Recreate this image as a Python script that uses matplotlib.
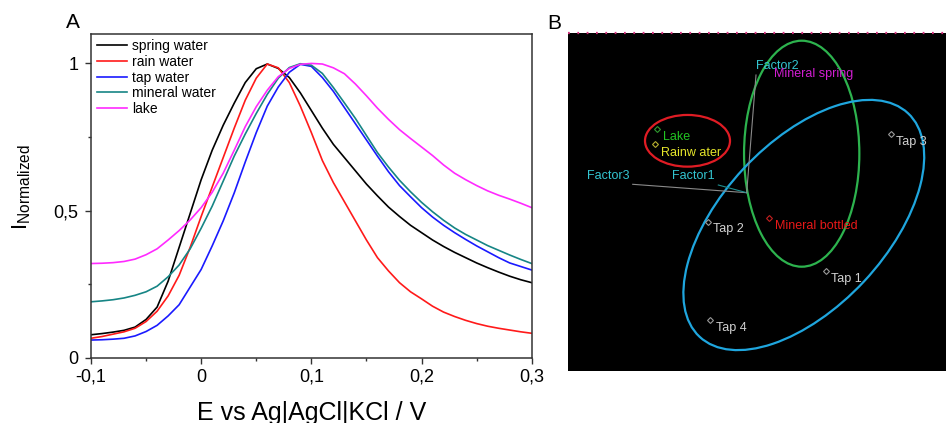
import matplotlib
matplotlib.use('Agg')
import matplotlib.pyplot as plt
from matplotlib.patches import Ellipse
from matplotlib.ticker import MultipleLocator, FuncFormatter

plt.rcParams['font.family'] = ['Liberation Sans', 'DejaVu Sans']

# --- Panel A: normalized voltammograms ---
E = [-0.10, -0.09, -0.08, -0.07, -0.06, -0.05, -0.04, -0.03, -0.02, -0.01,
     0.00, 0.01, 0.02, 0.03, 0.04, 0.05, 0.06, 0.07, 0.08, 0.09,
     0.10, 0.11, 0.12, 0.13, 0.14, 0.15, 0.16, 0.17, 0.18, 0.19,
     0.20, 0.21, 0.22, 0.23, 0.24, 0.25, 0.26, 0.27, 0.28, 0.29, 0.30]

spring = [0.078, 0.082, 0.087, 0.093, 0.104, 0.130, 0.172, 0.260, 0.375, 0.490,
          0.605, 0.705, 0.790, 0.865, 0.935, 0.982, 0.998, 0.983, 0.952, 0.900,
          0.840, 0.780, 0.725, 0.680, 0.635, 0.590, 0.550, 0.512, 0.480, 0.450,
          0.425, 0.400, 0.378, 0.358, 0.340, 0.322, 0.306, 0.291, 0.277, 0.265, 0.255]
rain = [0.066, 0.072, 0.080, 0.088, 0.100, 0.123, 0.158, 0.210, 0.280, 0.375,
        0.480, 0.580, 0.680, 0.780, 0.875, 0.950, 0.998, 0.985, 0.935, 0.855,
        0.765, 0.670, 0.595, 0.530, 0.465, 0.400, 0.340, 0.295, 0.255, 0.224,
        0.200, 0.175, 0.155, 0.140, 0.127, 0.116, 0.107, 0.100, 0.094, 0.088, 0.083]
tap = [0.060, 0.061, 0.063, 0.066, 0.074, 0.089, 0.110, 0.142, 0.180, 0.240,
       0.300, 0.380, 0.465, 0.560, 0.665, 0.765, 0.855, 0.920, 0.970, 0.997,
       0.990, 0.952, 0.905, 0.850, 0.795, 0.740, 0.685, 0.632, 0.585, 0.547,
       0.510, 0.478, 0.450, 0.425, 0.402, 0.380, 0.360, 0.340, 0.322, 0.310, 0.298]
mineral = [0.190, 0.193, 0.197, 0.203, 0.212, 0.224, 0.243, 0.275, 0.315, 0.370,
           0.440, 0.515, 0.600, 0.685, 0.760, 0.830, 0.895, 0.950, 0.986, 0.999,
           0.994, 0.966, 0.918, 0.866, 0.813, 0.755, 0.697, 0.648, 0.603, 0.564,
           0.528, 0.496, 0.467, 0.441, 0.419, 0.400, 0.381, 0.365, 0.349, 0.334, 0.320]
lake = [0.320, 0.321, 0.323, 0.327, 0.335, 0.350, 0.370, 0.400, 0.432, 0.468,
        0.510, 0.562, 0.627, 0.705, 0.785, 0.853, 0.909, 0.955, 0.983, 0.997,
        1.000, 0.998, 0.985, 0.965, 0.930, 0.890, 0.848, 0.810, 0.775, 0.745,
        0.716, 0.687, 0.655, 0.627, 0.605, 0.585, 0.567, 0.552, 0.539, 0.525, 0.510]

series_names = ["spring water", "rain water", "tap water", "mineral water", "lake"]
series_vals = [spring, rain, tap, mineral, lake]
series_colors = ["#000000", "#ff1a1a", "#1a1aff", "#168585", "#ff2aff"]

# --- Panel B: PCA-like map (box pixel units) ---
pt_names = ["Lake", "Rainw ater", "Tap 3", "Tap 2", "Mineral bottled", "Tap 1", "Tap 4"]
pt_x = [89.0, 87.6, 323.3, 140.6, 201.0, 258.0, 142.3]
pt_y = [241.4, 226.7, 236.4, 149.0, 152.4, 99.7, 50.7]
pt_mcolors = ["#2f9a2f", "#b8b030", "#9a9a9a", "#9a9a9a", "#c42020", "#9a9a9a", "#9a9a9a"]
pt_tcolors = ["#22c322", "#e6e62a", "#d2d2d2", "#d2d2d2", "#e81818", "#d2d2d2", "#d2d2d2"]

ell_cx = [119.8, 234.0, 236.1]
ell_cy = [229.9, 217.0, 145.7]
ell_w = [85.0, 115.3, 305.6]
ell_h = [51.7, 226.0, 165.0]
ell_ang = [0, 0, 47]
ell_colors = ["#e01c24", "#2db34e", "#1fa6de"]

origin = (179.0, 178.0)
factor_names = ["Factor3", "Factor1", "Factor2"]
factor_end_x = [65.0, 150.6, 188.3]
factor_end_y = [186.4, 185.7, 295.7]
factor_label_x = [19.0, 104.0, 188.0]
factor_label_y = [194.9, 194.9, 305.0]
factor_line_colors = ["#8a8a8a", "#1f8f8f", "#8a8a8a"]

W, H = 946, 423
fig = plt.figure(figsize=(W / 100, H / 100), dpi=100, facecolor="white")

# Panel A
axA = fig.add_axes([91 / W, 1 - 357.7 / H, 440.7 / W, 323.7 / H])
for name, vals, col in zip(series_names, series_vals, series_colors):
    axA.plot(E, vals, color=col, lw=1.2, label=name)
axA.set_xlim(-0.1, 0.3)
axA.set_ylim(0, 1.1)
axA.xaxis.set_major_locator(MultipleLocator(0.1))
axA.xaxis.set_minor_locator(MultipleLocator(0.05))
axA.yaxis.set_major_locator(MultipleLocator(0.5))
axA.yaxis.set_minor_locator(MultipleLocator(0.25))
comma = FuncFormatter(lambda v, p: ("%g" % round(v, 3)).replace(".", ","))
axA.xaxis.set_major_formatter(comma)
axA.yaxis.set_major_formatter(comma)
axA.tick_params(which="major", direction="out", length=4.3, width=1, labelsize=13,
                color="#333333")
axA.tick_params(axis="x", which="major", pad=3.5)
axA.tick_params(axis="y", which="major", pad=4.8)
axA.tick_params(which="minor", direction="out", length=2.4, width=1, color="#333333")
for sp in axA.spines.values():
    sp.set_color("#333333")
    sp.set_linewidth(1.1)
axA.legend(loc="upper left", bbox_to_anchor=(0.013, 0.984), frameon=False,
           fontsize=10, handlelength=2.2, handletextpad=0.35, labelspacing=0.12,
           borderaxespad=0, borderpad=0)

fig.text(311.5 / W, (H - 419.6) / H, "E vs Ag|AgCl|KCl / V", fontsize=18,
         ha="center", va="baseline")
fig.text(22 / W, 1 - 187 / H, r"$\mathregular{I_{Normalized}}$", fontsize=16,
         rotation=90, ha="center", va="center")
fig.text(72.5 / W, 1 - 22.5 / H, "A", fontsize=15, ha="center", va="center")
fig.text(554.5 / W, 1 - 23.7 / H, "B", fontsize=15, ha="center", va="center")

# Panel B
axB = fig.add_axes([567.7 / W, 1 - 370.7 / H, (W - 567.7) / W, 338 / H])
axB.set_facecolor("black")
axB.set_xlim(0, W - 567.7)
axB.set_ylim(0, 338)
axB.set_xticks([])
axB.set_yticks([])
for sp in axB.spines.values():
    sp.set_visible(False)

for cx, cy, w, h, a, c in zip(ell_cx, ell_cy, ell_w, ell_h, ell_ang, ell_colors):
    axB.add_patch(Ellipse((cx, cy), w, h, angle=a, fill=False, ec=c, lw=1.6))

for ex, ey, c in zip(factor_end_x, factor_end_y, factor_line_colors):
    axB.plot([origin[0], ex], [origin[1], ey], color=c, lw=0.8)
for name, lx, ly in zip(factor_names, factor_label_x, factor_label_y):
    axB.text(lx, ly, name, color="#33c6d2", fontsize=9, ha="left", va="center")

axB.text(206.6, 296.7, "Mineral spring", color="#d21ed2", fontsize=9,
         ha="left", va="center")

label_dx = [6.6, 5.4, 5.0, 4.4, 6.6, 5.0, 6.0]
label_dy = [-8.2, -8.5, -8.2, -7.3, -7.7, -8.0, -8.5]
for name, x, y, mc, tc, dx, dy in zip(pt_names, pt_x, pt_y, pt_mcolors, pt_tcolors,
                                      label_dx, label_dy):
    axB.plot(x, y, marker="D", ms=3, mfc="none", mec=mc, mew=0.8)
    axB.text(x + dx, y + dy, name, color=tc, fontsize=9, ha="left", va="center")

axB.plot([0, W - 567.7], [338, 338], color="#d0307a", lw=1.6,
         linestyle=(0, (0.8, 3.4)), clip_on=False)

fig.savefig("out.png", dpi=100, facecolor="white")
